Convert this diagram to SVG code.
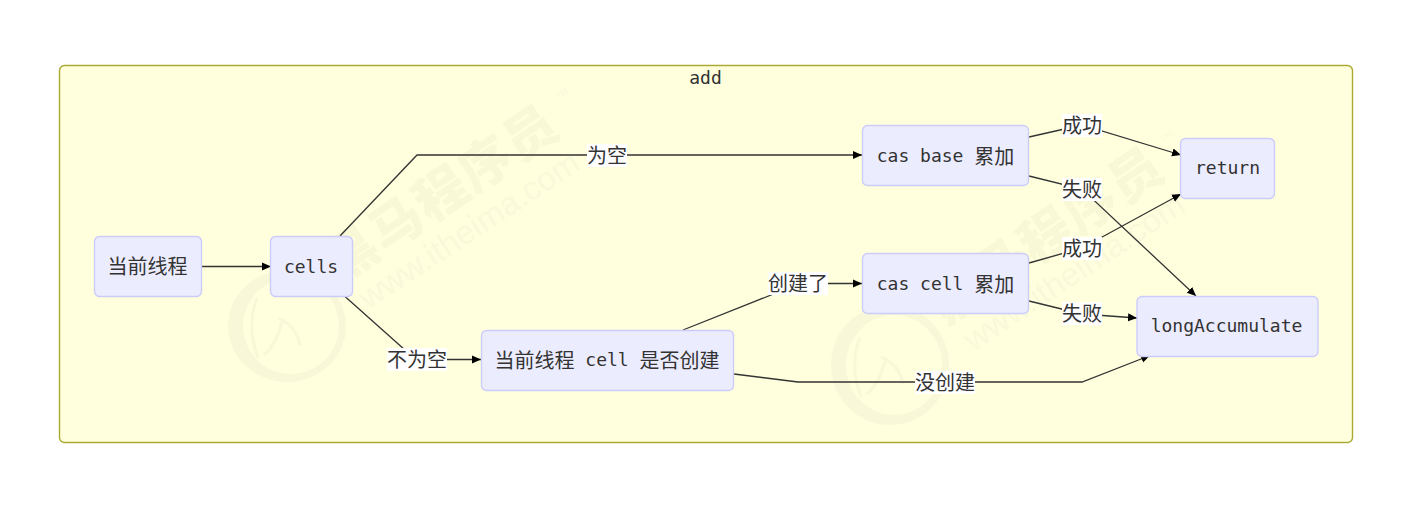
<svg xmlns="http://www.w3.org/2000/svg" width="1402" height="516" viewBox="0 0 1402 516">
<defs>
<marker id="arrow" markerUnits="userSpaceOnUse" markerWidth="10" markerHeight="10" refX="9" refY="4.500" orient="auto"><path d="M0,0.500 L9,4.500 L0,8.500 z" fill="#000"/></marker>
</defs>
<style>
.cluster{fill:#ffffde;stroke:#aaaa33;stroke-width:1.400}
.node rect{fill:#ececff;stroke:#ccccfb;stroke-width:1.400}
.t{font-family:"DejaVu Sans Mono","Liberation Mono","Noto Sans CJK SC",monospace;font-size:18px;fill:#333;text-anchor:middle;dominant-baseline:central}
.c{font-family:"Noto Sans CJK SC",sans-serif;font-size:20px}
.lb{fill:#fff}
#edges path{fill:none;stroke:#333;stroke-width:1.300;marker-end:url(#arrow)}
.wm{font-family:"Noto Sans CJK SC",sans-serif;fill:#f8f8d7;font-weight:900;font-size:52px;letter-spacing:2px}
.wm2{font-family:"Liberation Sans",sans-serif;fill:#f9f9da;font-size:33px}
.wm3{font-family:"Liberation Sans",sans-serif;fill:#f9f9da;font-size:9px}
.wc{fill:#f8f8d8;fill-rule:evenodd}
.wl{fill:none;stroke:#f8f8d8;stroke-width:3}
</style>
<rect id="add" class="cluster" x="59.500" y="65.500" width="1293" height="377" rx="5"/>
<text class="t" x="705.500" y="77.500">add</text>
<g id="watermark">
<path class="wc" d="M228,326a59,56 0 1,0 118,0a59,56 0 1,0 -118,0z M243,326a48,48 0 1,0 96,0a48,48 0 1,0 -96,0z"/>
<path class="wl" d="M257,298 Q246,325 258,358 M278,318 Q296,325 300,345 M282,322 Q276,345 264,355"/>
<text class="wm" transform="translate(340,284) rotate(-34)">黑马程序员</text>
<text class="wm2" transform="translate(368,310) rotate(-33.500)">www.itheima.com</text>
<text class="wm3" transform="translate(558,100) rotate(-34)">TM</text>
<path class="wc" d="M831,365a59,60 0 1,0 118,0a59,60 0 1,0 -118,0z M846,365a48,50 0 1,0 96,0a48,50 0 1,0 -96,0z"/>
<path class="wl" d="M860,337 Q849,364 861,397 M881,357 Q899,364 903,384 M885,361 Q879,384 867,394"/>
<text class="wm" transform="translate(945,326) rotate(-34)">黑马程序员</text>
<text class="wm2" transform="translate(973,352) rotate(-33.500)">www.itheima.com</text>
<text class="wm3" transform="translate(1163,142) rotate(-34)">TM</text>
</g>
<g id="edges">
<path d="M202,266.500 H271"/>
<path d="M340,236 L417,155 H862"/>
<path d="M345,296.500 L405,350 L417,359.500 H481"/>
<path d="M683,330 L800,283.500 H862"/>
<path d="M734,374 L798,382 H1082 L1150,355.500"/>
<path d="M1029,137 L1082,125 L1181,155"/>
<path d="M1029,176 L1082,189 L1196,296"/>
<path d="M1029,263 L1082,248 L1181,194"/>
<path d="M1029,301 L1082,314 L1137,318"/>
</g>
<g id="edge-labels">
<rect class="lb" x="587" y="144" width="40" height="23"/><text class="t c" x="607" y="154">为空</text>
<rect class="lb" x="387" y="348" width="60" height="23"/><text class="t c" x="417" y="358">不为空</text>
<rect class="lb" x="768" y="272" width="60" height="23"/><text class="t c" x="798" y="282">创建了</text>
<rect class="lb" x="915" y="371" width="60" height="23"/><text class="t c" x="945" y="381">没创建</text>
<rect class="lb" x="1062" y="114" width="40" height="23"/><text class="t c" x="1082" y="124">成功</text>
<rect class="lb" x="1062" y="178" width="40" height="23"/><text class="t c" x="1082" y="188">失败</text>
<rect class="lb" x="1062" y="237" width="40" height="23"/><text class="t c" x="1082" y="247">成功</text>
<rect class="lb" x="1062" y="302" width="40" height="23"/><text class="t c" x="1082" y="312">失败</text>
</g>
<g id="n1" class="node"><rect x="94.500" y="236.500" width="107" height="60" rx="5"/><text class="t c" x="147.500" y="265">当前线程</text></g>
<g id="n2" class="node"><rect x="270.500" y="236.500" width="82" height="60" rx="5"/><text class="t" x="311" y="266.500">cells</text></g>
<g id="n3" class="node"><rect x="481.500" y="330.500" width="252" height="60" rx="5"/><text class="t" x="607" y="359"><tspan class="c">当前线程</tspan> cell <tspan class="c">是否创建</tspan></text></g>
<g id="n4" class="node"><rect x="862.500" y="125.500" width="166" height="60" rx="5"/><text class="t" x="945.500" y="155">cas base <tspan class="c">累加</tspan></text></g>
<g id="n5" class="node"><rect x="862.500" y="253.500" width="166" height="60" rx="5"/><text class="t" x="945.500" y="283">cas cell <tspan class="c">累加</tspan></text></g>
<g id="n6" class="node"><rect x="1180.500" y="138.500" width="94" height="60" rx="5"/><text class="t" x="1227.500" y="167.500">return</text></g>
<g id="n7" class="node"><rect x="1137" y="296.500" width="181" height="60" rx="5"/><text class="t" x="1226.500" y="325.500">longAccumulate</text></g>
</svg>
